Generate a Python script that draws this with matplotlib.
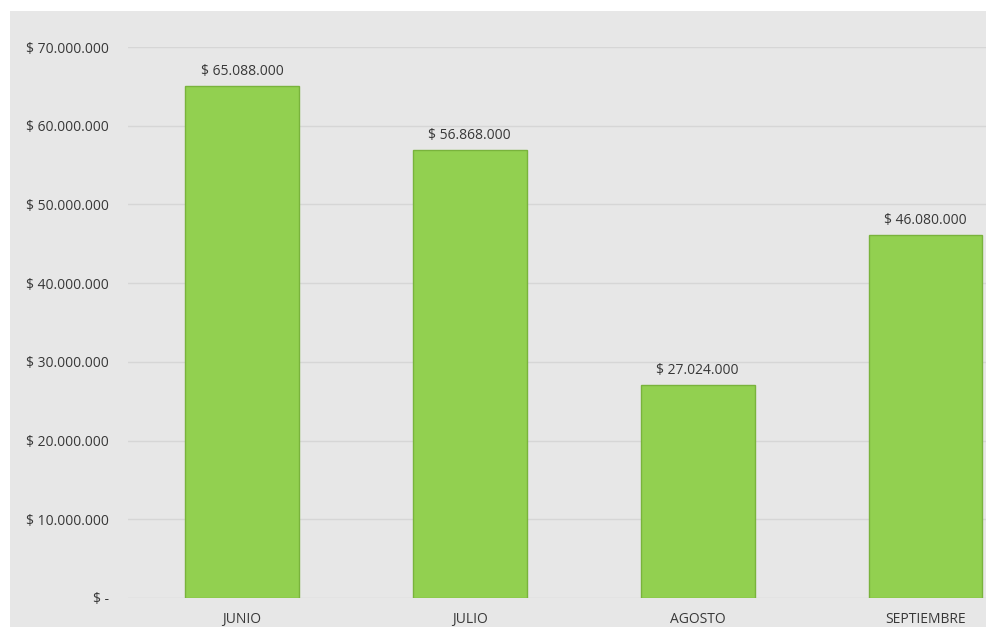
import matplotlib.pyplot as plt
from matplotlib.patches import Rectangle
from matplotlib.ticker import FuncFormatter

meses = ["JUNIO", "JULIO", "AGOSTO", "SEPTIEMBRE"]
ventas = [65088000, 56868000, 27024000, 46080000]
ticks_y = [0, 10000000, 20000000, 30000000, 40000000, 50000000, 60000000, 70000000]

plt.rcParams['font.family'] = ['Open Sans', 'DejaVu Sans']

fig = plt.figure(figsize=(9.87, 6.27), dpi=100, facecolor="white")
# grey panel behind the whole chart
fig.patches.append(Rectangle((10 / 987, 0), 977 / 987, 616 / 627,
                             transform=fig.transFigure, facecolor="#e7e7e7",
                             edgecolor="none", zorder=-10))

ax = fig.add_axes([128 / 987, 29 / 627, 859 / 987, 551 / 627])
ax.set_facecolor("none")
ax.set_zorder(1)

def pesos(v):
    s = f"{v:,.0f}".replace(",", ".")
    return "$ " + s

x = range(len(meses))
ax.bar(x, ventas, width=0.5, color="#92d050", edgecolor="#79b33c", linewidth=1, zorder=3)
for i, v in enumerate(ventas):
    ax.annotate(pesos(v), (i, v), xytext=(0, 5), textcoords="offset points",
                ha="center", va="bottom", fontsize=10, color="#383838")

ax.set_ylim(0, 70000000)
ax.set_xlim(-0.5, 3.27)
ax.set_yticks(ticks_y)
ax.yaxis.set_major_formatter(FuncFormatter(lambda v, p: "$ -" if v == 0 else pesos(v)))
ax.set_xticks(list(x))
ax.set_xticklabels(meses)
ax.grid(axis="y", color="#d6d6d6", linewidth=1, zorder=0)
ax.tick_params(length=0, labelsize=10, labelcolor="#383838")
ax.tick_params(axis="y", pad=14)
ax.tick_params(axis="x", pad=10)
for s in ax.spines.values():
    s.set_visible(False)

fig.savefig("out.png", dpi=100, facecolor="white")
